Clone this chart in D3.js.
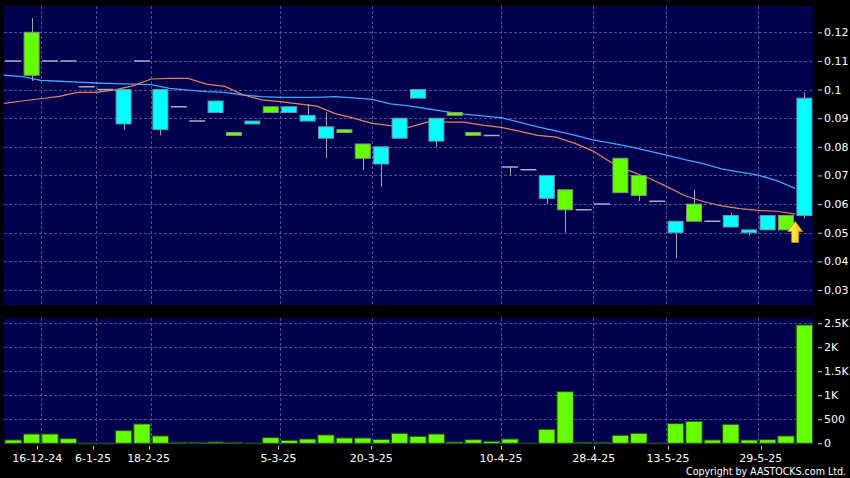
<!DOCTYPE html>
<html>
<head>
<meta charset="utf-8">
<script src="https://cdn.jsdelivr.net/npm/d3@7"></script>
<style>
  html, body { margin: 0; padding: 0; background: #000; }
  svg { display: block; }
</style>
</head>
<body>
<svg id="chart" width="850" height="478"></svg>
<script>
// ---------- DATA ----------
const categories = d3.range(44); // trading-day slots
const open  = [0.110,0.120,0.110,0.110,0.101,0.100,0.088,0.110,0.086,0.094,0.089,0.092,0.085,0.088,0.094,0.092,0.089,0.083,0.086,0.081,0.074,0.083,0.097,0.082,0.092,0.085,0.084,0.073,0.072,0.062,0.065,0.058,0.060,0.076,0.070,0.061,0.050,0.060,0.054,0.052,0.050,0.051,0.056,0.056];
const high  = [0.110,0.125,0.110,0.110,0.101,0.100,0.100,0.110,0.100,0.094,0.089,0.096,0.085,0.089,0.094,0.094,0.095,0.092,0.086,0.081,0.080,0.090,0.100,0.090,0.092,0.085,0.084,0.073,0.072,0.070,0.065,0.058,0.060,0.076,0.070,0.061,0.054,0.065,0.054,0.057,0.051,0.056,0.056,0.099];
const low   = [0.110,0.103,0.110,0.110,0.101,0.100,0.086,0.110,0.084,0.094,0.089,0.092,0.084,0.088,0.092,0.092,0.089,0.076,0.085,0.072,0.066,0.083,0.097,0.080,0.091,0.084,0.084,0.070,0.072,0.060,0.050,0.058,0.060,0.064,0.061,0.061,0.041,0.054,0.054,0.052,0.049,0.051,0.051,0.055];
const close = [0.110,0.105,0.110,0.110,0.101,0.100,0.100,0.110,0.100,0.094,0.089,0.096,0.084,0.089,0.092,0.094,0.091,0.087,0.085,0.076,0.080,0.090,0.100,0.090,0.091,0.084,0.084,0.073,0.072,0.070,0.058,0.058,0.060,0.064,0.063,0.061,0.054,0.054,0.054,0.056,0.051,0.056,0.051,0.097];
const volume = [70,194,194,97,3,3,264,403,153,21,21,28,21,5,118,63,90,174,111,111,83,208,146,194,28,76,42,90,5,292,1076,21,21,167,208,5,410,458,69,396,69,76,153,2465];
// moving averages, one value per slot boundary (slot left edges)
const maShort = [0.0952,0.0960,0.0968,0.0976,0.0990,0.0990,0.0999,0.1013,0.1037,0.1039,0.1039,0.1019,0.1011,0.0982,0.0964,0.0958,0.0950,0.0942,0.0916,0.0900,0.0882,0.0874,0.0868,0.0886,0.0886,0.0886,0.0876,0.0868,0.0855,0.0840,0.0834,0.0813,0.0786,0.0745,0.0716,0.0692,0.0662,0.0629,0.0609,0.0594,0.0584,0.0578,0.0575,0.0565];
const maLong  = [0.1050,0.1045,0.1032,0.1029,0.1026,0.1023,0.1021,0.1019,0.1017,0.1004,0.0998,0.0993,0.0990,0.0981,0.0975,0.0973,0.0973,0.0973,0.0975,0.0971,0.0966,0.0950,0.0943,0.0933,0.0923,0.0914,0.0908,0.0902,0.0886,0.0870,0.0856,0.0841,0.0824,0.0813,0.0801,0.0786,0.0771,0.0755,0.0741,0.0723,0.0712,0.0701,0.0682,0.0655];
const dateTickSlots  = [2,5,8,15,20,27,32,36,41];
const dateTickLabels = ["16-12-24","6-1-25","18-2-25","5-3-25","20-3-25","10-4-25","28-4-25","13-5-25","29-5-25"];
const priceTicks = [0.03,0.04,0.05,0.06,0.07,0.08,0.09,0.10,0.11,0.12];
const volTicks = [0,500,1000,1500,2000,2500];
const volTickLabels = ["0","500","1K","1.5K","2K","2.5K"];
const signalSlot = 43;
const copyright = "Copyright by AASTOCKS.com Ltd.";

// ---------- LAYOUT ----------
const svg = d3.select("#chart");
const W = 850, H = 478;
const plotL = 4, plotR = 813.6;
const priceTop = 6, priceBot = 305;
const volTop = 318, volBot = 444.5;
const navy = "#00004e";
const gridColor = "#50508c";
const font = "'DejaVu Sans', sans-serif";

svg.append("rect").attr("width", W).attr("height", H).attr("fill", "#000");

const x = d3.scaleBand().domain(categories).range([plotL, plotR]).padding(0);
const bw = x.bandwidth();
const edge = k => plotL + k * x.step();
const tickX = d3.scaleLinear().domain([0, 44]).range([0.2, 816.4]);

const yP = d3.scaleLinear().domain([0.03, 0.12]).range([290, 32.3]);
const yV = d3.scaleLinear().domain([0, 2500]).range([443.3, 323.3]);

const defs = svg.append("defs");
defs.append("clipPath").attr("id", "clipP").append("rect")
  .attr("x", plotL).attr("y", priceTop).attr("width", plotR - plotL).attr("height", priceBot - priceTop);
defs.append("clipPath").attr("id", "clipV").append("rect")
  .attr("x", plotL).attr("y", volTop).attr("width", plotR - plotL).attr("height", volBot - volTop);
const grad = defs.append("linearGradient").attr("id", "arrowGrad")
  .attr("x1", "0").attr("x2", "1").attr("y1", "0").attr("y2", "0");
grad.append("stop").attr("offset", "0%").attr("stop-color", "#fff27a");
grad.append("stop").attr("offset", "55%").attr("stop-color", "#ffe030");
grad.append("stop").attr("offset", "100%").attr("stop-color", "#e8a800");

// ---------- PRICE PANEL ----------
svg.append("rect").attr("x", plotL).attr("y", priceTop)
  .attr("width", plotR - plotL).attr("height", priceBot - priceTop).attr("fill", navy);

const gP = svg.append("g").attr("clip-path", "url(#clipP)");
gP.selectAll("line.hg").data(priceTicks).join("line")
  .attr("x1", plotL).attr("x2", plotR)
  .attr("y1", d => Math.round(yP(d)) + 0.5).attr("y2", d => Math.round(yP(d)) + 0.5)
  .attr("stroke", gridColor).attr("stroke-dasharray", "3,2");
gP.selectAll("line.vg").data(dateTickSlots).join("line")
  .attr("x1", d => Math.round(edge(d)) + 0.5).attr("x2", d => Math.round(edge(d)) + 0.5)
  .attr("y1", priceTop).attr("y2", priceBot)
  .attr("stroke", gridColor).attr("stroke-dasharray", "3,2");

// moving averages
const maLine = d3.line().x((d, i) => edge(i)).y(d => yP(d));
gP.append("path").datum(maLong).attr("d", maLine)
  .attr("fill", "none").attr("stroke", "#3fa6ff").attr("stroke-width", 1.3);
gP.append("path").datum(maShort).attr("d", maLine)
  .attr("fill", "none").attr("stroke", "#e4845a").attr("stroke-width", 1.2);

// candles
const candles = categories.map(i => ({i, o: open[i], h: high[i], l: low[i], c: close[i]}));
const cx = d => x(d.i) + bw / 2;
const bodyW = 15;
const gC = gP.append("g");
gC.selectAll("line.wick").data(candles.filter(d => d.h > d.l)).join("line")
  .attr("x1", d => Math.round(cx(d)) + 0.5).attr("x2", d => Math.round(cx(d)) + 0.5)
  .attr("y1", d => yP(d.h)).attr("y2", d => yP(d.l))
  .attr("stroke", "#a4a4b4").attr("stroke-width", 1);
gC.selectAll("rect.body").data(candles.filter(d => d.o !== d.c)).join("rect")
  .attr("x", d => cx(d) - bodyW / 2)
  .attr("y", d => yP(Math.max(d.o, d.c)))
  .attr("width", bodyW)
  .attr("height", d => Math.max(1.5, yP(Math.min(d.o, d.c)) - yP(Math.max(d.o, d.c))))
  .attr("fill", d => d.c > d.o ? "#00ffff" : "#66ff00")
  .attr("stroke", d => d.c > d.o ? "#6f94a6" : "#7f9a70").attr("stroke-width", 1);
gC.selectAll("line.doji").data(candles.filter(d => d.o === d.c)).join("line")
  .attr("x1", d => cx(d) - 8).attr("x2", d => cx(d) + 8)
  .attr("y1", d => yP(d.c)).attr("y2", d => yP(d.c))
  .attr("stroke", "#acacc0").attr("stroke-width", 1.5);

// signal arrow
const ax = edge(signalSlot), ay = yP(low[signalSlot]) + 3;
svg.append("path")
  .attr("d", `M${ax},${ay} L${ax + 7.5},${ay + 10} L${ax + 3.5},${ay + 10} L${ax + 3.5},${ay + 21} L${ax - 3.5},${ay + 21} L${ax - 3.5},${ay + 10} L${ax - 7.5},${ay + 10} Z`)
  .attr("fill", "url(#arrowGrad)").attr("stroke", "#c89000").attr("stroke-width", 0.8);

// price axis
const axP = svg.append("g").attr("transform", `translate(818,0)`)
  .call(d3.axisRight(yP).tickValues(priceTicks).tickSize(4).tickPadding(2)
    .tickFormat(d => String(+d.toFixed(2))));
axP.select(".domain").remove();
axP.selectAll(".tick line").attr("stroke", "#c8c8c8");
axP.selectAll(".tick text").attr("fill", "#fff").attr("font-family", font).attr("font-size", 11);

// ---------- VOLUME PANEL ----------
svg.append("rect").attr("x", plotL).attr("y", volTop)
  .attr("width", plotR - plotL).attr("height", volBot - volTop).attr("fill", navy);
const gV = svg.append("g").attr("clip-path", "url(#clipV)");
gV.selectAll("line.hg").data(volTicks).join("line")
  .attr("x1", plotL).attr("x2", plotR)
  .attr("y1", d => Math.round(yV(d)) + 0.5).attr("y2", d => Math.round(yV(d)) + 0.5)
  .attr("stroke", gridColor).attr("stroke-dasharray", "3,2");
gV.selectAll("line.vg").data(dateTickSlots).join("line")
  .attr("x1", d => Math.round(edge(d)) + 0.5).attr("x2", d => Math.round(edge(d)) + 0.5)
  .attr("y1", volTop).attr("y2", volBot)
  .attr("stroke", gridColor).attr("stroke-dasharray", "3,2");
gV.selectAll("rect.vol").data(categories).join("rect")
  .attr("x", i => x(i) + 1).attr("width", bw - 2)
  .attr("y", i => yV(volume[i])).attr("height", i => Math.max(0.8, yV(0) - yV(volume[i])))
  .attr("fill", "#66ff00").attr("stroke", "#244a10").attr("stroke-width", 1);

const axV = svg.append("g").attr("transform", `translate(818,0)`)
  .call(d3.axisRight(yV).tickValues(volTicks).tickSize(4).tickPadding(2)
    .tickFormat((d, i) => volTickLabels[i]));
axV.select(".domain").remove();
axV.selectAll(".tick line").attr("stroke", "#c8c8c8");
axV.selectAll(".tick text").attr("fill", "#fff").attr("font-family", font).attr("font-size", 11);

// ---------- DATE AXIS ----------
const gX = svg.append("g");
gX.selectAll("line.xt").data(dateTickSlots).join("line")
  .attr("x1", d => Math.round(tickX(d)) + 0.5).attr("x2", d => Math.round(tickX(d)) + 0.5)
  .attr("y1", 446).attr("y2", 449.5).attr("stroke", "#c8c8c8");
gX.selectAll("text.xl").data(dateTickSlots).join("text")
  .attr("x", d => tickX(d)).attr("y", 462)
  .attr("text-anchor", "middle").attr("fill", "#fff")
  .attr("font-family", font).attr("font-size", 11)
  .text((d, i) => dateTickLabels[i]);

svg.append("text").attr("x", 846).attr("y", 474.5).attr("text-anchor", "end")
  .attr("fill", "#fff").attr("font-family", "'DejaVu Sans Condensed', 'DejaVu Sans', sans-serif")
  .attr("font-size", 10.5)
  .attr("textLength", 160).attr("lengthAdjust", "spacingAndGlyphs")
  .text(copyright);
</script>
</body>
</html>
